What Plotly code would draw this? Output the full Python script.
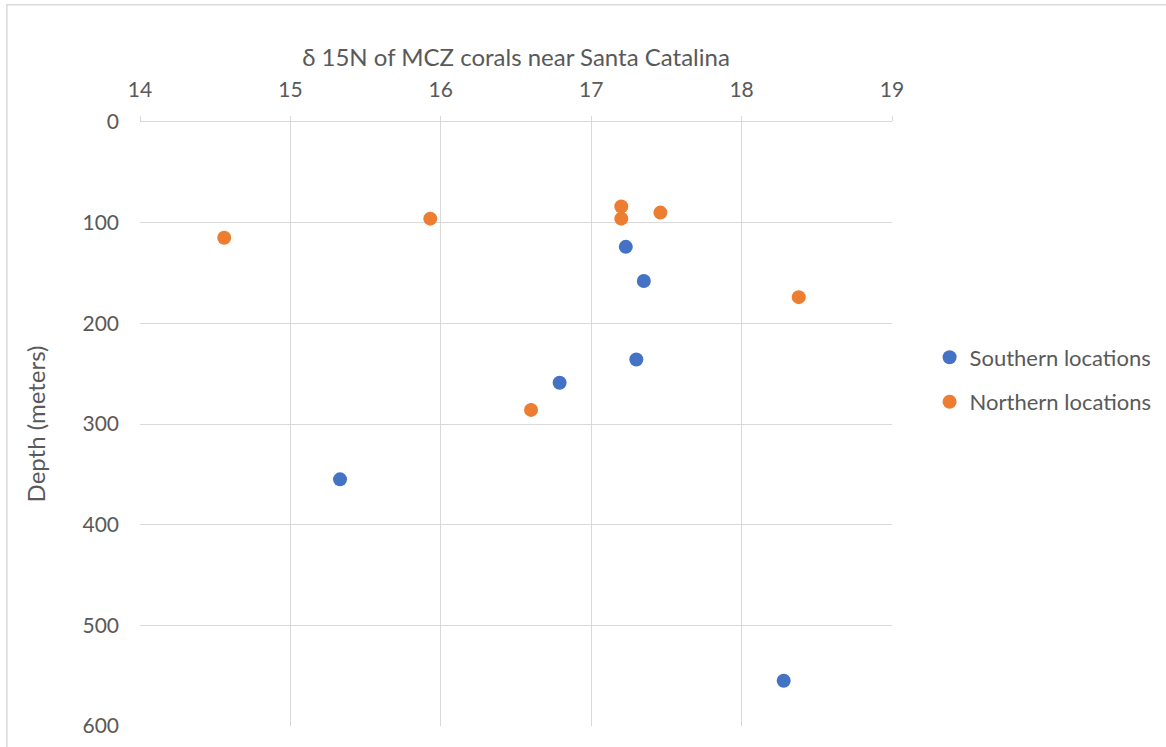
import plotly.graph_objects as go

# δ15N values and sampling depths
south_d15n = [17.23, 17.35, 17.30, 16.79, 15.33, 18.28]
south_depth = [124, 158, 236, 259, 355, 555]

north_d15n = [14.56, 15.93, 17.20, 17.20, 17.46, 18.38, 16.60]
north_depth = [115, 96, 84, 96, 90, 174, 286]

x_ticks = [14, 15, 16, 17, 18, 19]
y_ticks = [0, 100, 200, 300, 400, 500, 600]

FONT = "Lato, 'Open Sans', sans-serif"
GRID = "#d9d9d9"
TEXT = "#595959"

fig = go.Figure()
fig.add_trace(go.Scatter(
    x=south_d15n, y=south_depth, mode="markers", name="Southern locations",
    legendgroup="s", marker=dict(size=14, color="#4472C4"),
))
fig.add_trace(go.Scatter(
    x=north_d15n, y=north_depth, mode="markers", name="Northern locations",
    legendgroup="n", marker=dict(size=14, color="#ED7D31"),
))

fig.update_layout(
    width=1166, height=747,
    margin=dict(l=140, r=274, t=122, b=21, autoexpand=False),
    paper_bgcolor="white", plot_bgcolor="white",
    font=dict(family=FONT, color=TEXT, size=21),
    showlegend=True,
    legend=dict(x=1.05, y=0.573, xanchor="left", yanchor="middle",
                font=dict(size=22, color=TEXT), itemsizing="trace",
                itemwidth=30, tracegroupgap=13, bgcolor="rgba(0,0,0,0)"),
    xaxis=dict(
        side="top", range=[14, 19], tickvals=x_ticks,
        showgrid=True, gridcolor=GRID, gridwidth=1.3,
        showline=True, linecolor=GRID, linewidth=1.3, mirror=False,
        ticks="outside", ticklen=5, tickcolor=GRID, tickwidth=1.3,
        ticklabelstandoff=10,
        zeroline=False,
        title=dict(text="δ 15N of MCZ corals near Santa Catalina",
                   font=dict(size=24, color=TEXT), standoff=3),
        tickfont=dict(size=21, color=TEXT),
    ),
    yaxis=dict(
        range=[600, 0], tickvals=y_ticks,
        showgrid=True, gridcolor=GRID, gridwidth=1.3,
        showline=False, zeroline=False, ticks="",
        ticklabelstandoff=20,
        title=dict(text="Depth (meters)", font=dict(size=24, color=TEXT), standoff=30),
        tickfont=dict(size=21, color=TEXT),
    ),
)

# Chart-area frame
fig.add_shape(type="rect", xref="paper", yref="paper",
              x0=-0.177, x1=1.5, y0=-0.5, y1=1.194,
              line=dict(color="#d9d9d9", width=1.5), layer="below")

fig.write_html("out.html")
